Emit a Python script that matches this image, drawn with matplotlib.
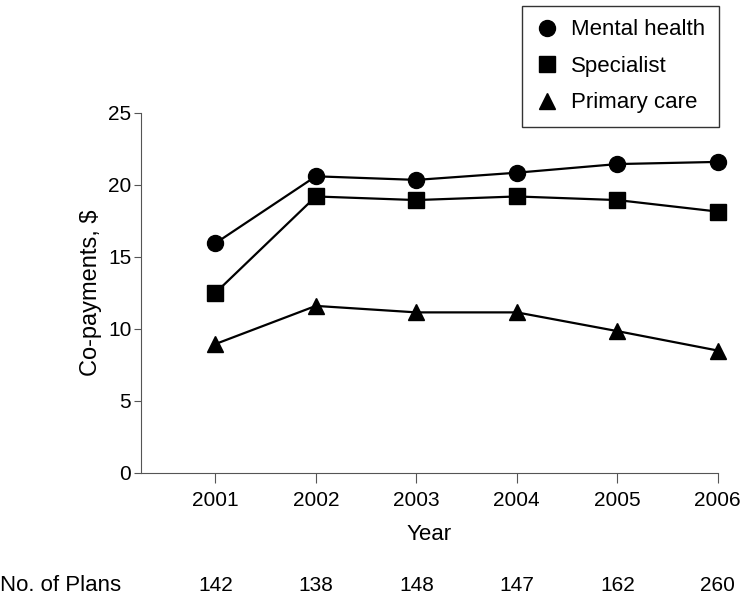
import matplotlib.pyplot as plt

plt.rcParams['font.family'] = ['Liberation Sans', 'DejaVu Sans']

years = [2001, 2002, 2003, 2004, 2005, 2006]
mental = [15.95, 20.6, 20.35, 20.85, 21.45, 21.6]
specialist = [12.5, 19.2, 18.95, 19.2, 18.95, 18.15]
primary = [8.95, 11.6, 11.15, 11.15, 9.85, 8.5]
plans = [142, 138, 148, 147, 162, 260]

fig = plt.figure(figsize=(7.5, 6.04), dpi=100)
ax = fig.add_axes([0.188, 0.217, 0.769, 0.596])

ax.plot(years, mental, color='black', lw=1.6, marker='o', ms=11.5, label='Mental health', clip_on=False)
ax.plot(years, specialist, color='black', lw=1.6, marker='s', ms=11, label='Specialist', clip_on=False)
ax.plot(years, primary, color='black', lw=1.6, marker='^', ms=12, label='Primary care', clip_on=False)

ax.set_xlim(2000.26, 2006)
ax.set_ylim(0, 25)
ax.set_xticks(years)
ax.set_yticks([0, 5, 10, 15, 20, 25])
ax.spines['top'].set_visible(False)
ax.spines['right'].set_visible(False)
ax.spines['left'].set_color('#555555')
ax.spines['bottom'].set_color('#555555')
ax.tick_params(labelsize=15, color='#555555')
ax.tick_params(axis='x', length=7, pad=6)
ax.tick_params(axis='y', length=5, pad=2)
ax.set_ylabel('Co-payments, $', fontsize=17, labelpad=4)
ax.set_xlabel('Year', fontsize=16, labelpad=10)

# number of plans row under the axis
for yr, n in zip(years, plans):
    ax.annotate(str(n), xy=(yr, 0), xycoords=('data', 'axes fraction'),
                xytext=(0, -81), textcoords='offset points', ha='center', va='center',
                fontsize=15)
fig.text(0.0, 0.03, 'No. of Plans', fontsize=16, va='center')

leg = fig.legend(loc='upper right', bbox_to_anchor=(0.958, 0.99), fontsize=16,
                 frameon=True, fancybox=False, edgecolor='black', borderpad=0.6,
                 labelspacing=0.7, handlelength=1.0, handletextpad=0.6,
                 borderaxespad=0)
leg.get_frame().set_linewidth(1.0)
for h in leg.legend_handles:
    h.set_linestyle('none')

fig.savefig('out.png', dpi=100)
